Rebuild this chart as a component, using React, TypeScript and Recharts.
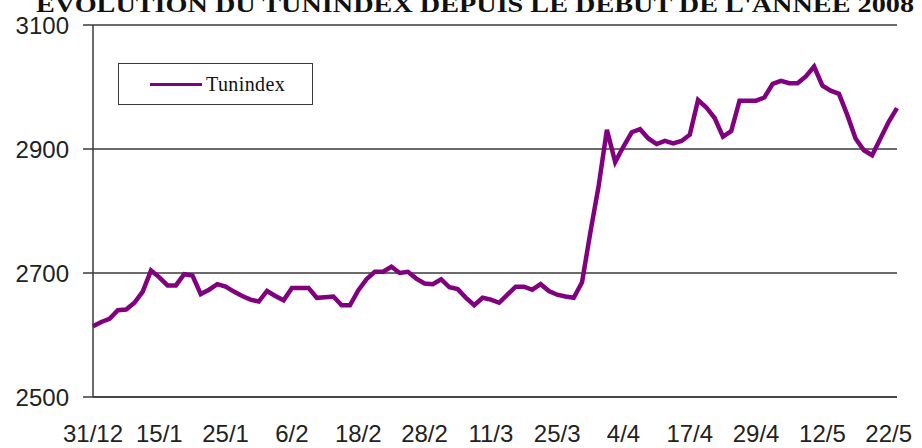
import { CartesianGrid, Line, LineChart, XAxis, YAxis } from 'recharts';

const DATES = [
  '31/12', '2/1', '3/1', '4/1', '7/1', '8/1', '11/1', '14/1', '15/1',
  '16/1', '17/1', '18/1', '21/1', '22/1', '23/1', '24/1', '25/1',
  '28/1', '29/1', '30/1', '31/1', '1/2', '4/2', '5/2', '6/2',
  '7/2', '8/2', '11/2', '12/2', '13/2', '14/2', '15/2', '18/2',
  '19/2', '20/2', '21/2', '22/2', '25/2', '26/2', '27/2', '28/2',
  '29/2', '3/3', '4/3', '5/3', '6/3', '7/3', '10/3', '11/3',
  '12/3', '13/3', '14/3', '17/3', '18/3', '19/3', '24/3', '25/3',
  '26/3', '27/3', '28/3', '31/3', '1/4', '2/4', '3/4', '4/4',
  '7/4', '8/4', '10/4', '11/4', '14/4', '15/4', '16/4', '17/4',
  '18/4', '21/4', '22/4', '23/4', '24/4', '25/4', '28/4', '29/4',
  '30/4', '2/5', '5/5', '6/5', '7/5', '8/5', '9/5', '12/5',
  '13/5', '14/5', '15/5', '16/5', '19/5', '20/5', '21/5', '22/5',
  '23/5',
];

const TUNINDEX = [
  2614, 2621, 2626, 2640, 2641, 2652, 2670, 2704, 2693,
  2680, 2680, 2698, 2696, 2666, 2673, 2682, 2678,
  2670, 2663, 2657, 2654, 2671, 2663, 2656, 2676,
  2676, 2676, 2660, 2661, 2662, 2648, 2648, 2672,
  2690, 2702, 2702, 2710, 2700, 2702, 2691, 2683,
  2682, 2690, 2677, 2674, 2660, 2648, 2660, 2657,
  2652, 2665, 2678, 2678, 2673, 2682, 2671, 2665,
  2662, 2660, 2685, 2765, 2840, 2931, 2879, 2904,
  2927, 2932, 2917, 2908, 2913, 2909, 2913, 2923,
  2979, 2967, 2950, 2920, 2929, 2978, 2978, 2978,
  2983, 3005, 3010, 3006, 3006, 3017, 3033, 3002,
  2994, 2989, 2955, 2917, 2898, 2890, 2917, 2944,
  2966,
];

const X_TICKS = ['31/12', '15/1', '25/1', '6/2', '18/2', '28/2', '11/3', '25/3', '4/4', '17/4', '29/4', '12/5', '22/5'];
const Y_TICKS = [2500, 2700, 2900, 3100];

const TITLE = "EVOLUTION DU TUNINDEX DEPUIS LE DEBUT DE L'ANNEE 2008";

const rows = DATES.map((date, i) => ({ date, tunindex: TUNINDEX[i] }));

const AXIS = '#3a3a3a';
const PURPLE = '#800080';

function XTick(props: any) {
  const { x, y, payload } = props;
  return (
    <text
      x={x}
      y={y}
      dy={37}
      textAnchor="middle"
      fontFamily="Liberation Sans, Arial, sans-serif"
      fontSize={24}
      fill="#222"
    >
      {payload.value}
    </text>
  );
}

function LegendBox() {
  return (
    <div
      style={{
        position: 'absolute',
        left: 118,
        top: 63,
        width: 195,
        height: 42,
        border: `1.5px solid ${AXIS}`,
        background: '#fff',
        display: 'flex',
        alignItems: 'center',
        boxSizing: 'border-box',
      }}
    >
      <span style={{ display: 'inline-block', width: 52, height: 3, background: PURPLE, marginLeft: 31 }} />
      <span
        style={{
          fontFamily: 'Liberation Serif, serif',
          fontSize: 20,
          color: '#111',
          marginLeft: 4,
          letterSpacing: 0.4,
        }}
      >
        Tunindex
      </span>
    </div>
  );
}

export default function App() {
  return (
    <div
      style={{
        position: 'fixed',
        left: 0,
        top: 0,
        width: 922,
        height: 448,
        background: '#fff',
        overflow: 'hidden',
      }}
    >
      <LineChart width={922} height={448} data={rows} margin={{ top: 25, right: 25, bottom: 0, left: 0 }}>
        <CartesianGrid vertical={false} stroke={AXIS} strokeWidth={1.5} />
        <XAxis
          dataKey="date"
          ticks={X_TICKS}
          interval={0}
          height={51}
          tickLine={false}
          axisLine={{ stroke: AXIS, strokeWidth: 1.5 }}
          tick={<XTick />}
        />
        <YAxis
          domain={[2500, 3100]}
          ticks={Y_TICKS}
          width={93}
          tickSize={10}
          tickMargin={14}
          axisLine={{ stroke: AXIS, strokeWidth: 1.5 }}
          tickLine={{ stroke: AXIS, strokeWidth: 1.5 }}
          tick={{ fontSize: 24, fill: '#222', fontFamily: 'Liberation Sans, Arial, sans-serif' }}
        />
        <Line
          type="linear"
          dataKey="tunindex"
          name="Tunindex"
          stroke={PURPLE}
          strokeWidth={4.5}
          dot={false}
          isAnimationActive={false}
        />
      </LineChart>
      <LegendBox />
      <svg width={922} height={448} style={{ position: 'absolute', left: 0, top: 0, pointerEvents: 'none' }}>
        <text
          x={475}
          y={12}
          textAnchor="middle"
          fontFamily="Liberation Serif, serif"
          fontWeight="bold"
          fontSize={24}
          textLength={878}
          lengthAdjust="spacingAndGlyphs"
          fill="#111"
        >
          {TITLE}
        </text>
      </svg>
    </div>
  );
}
